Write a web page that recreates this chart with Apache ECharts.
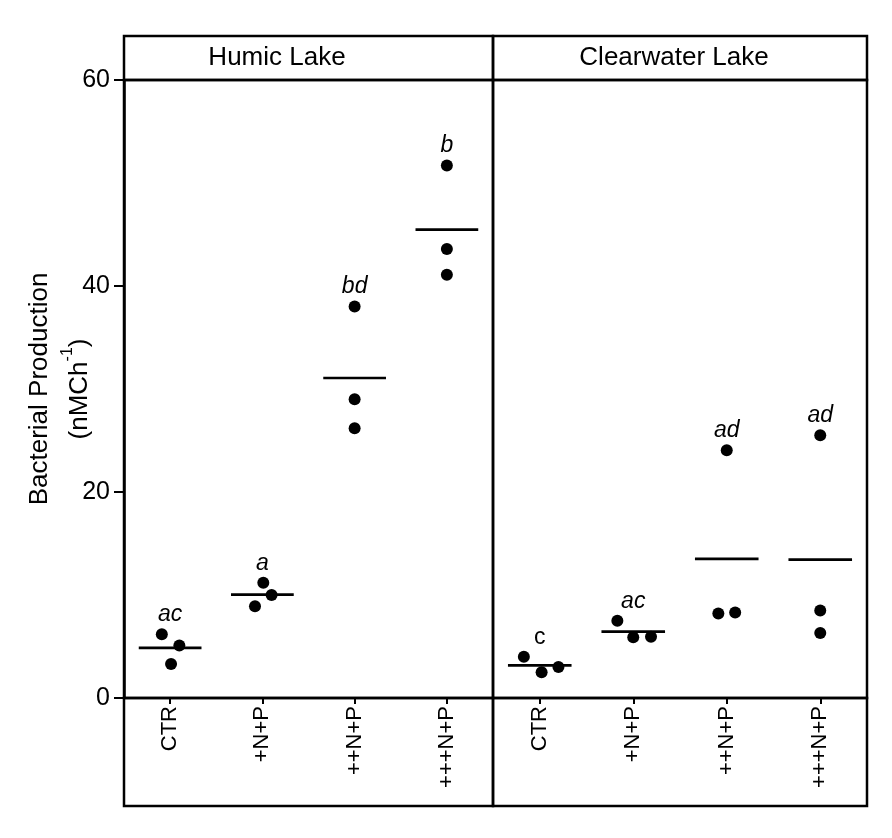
<!DOCTYPE html>
<html>
<head>
<meta charset="utf-8">
<script src="https://cdn.jsdelivr.net/npm/echarts@6/dist/echarts.min.js"></script>
<style>
html, body { margin: 0; padding: 0; background: #fff; }
#chart { width: 892px; height: 838px; }
</style>
</head>
<body>
<div id="chart"></div>
<script>
// 数据
const categories = ['CTR', '+N+P', '++N+P', '+++N+P'];
const panelTitles = ['Humic Lake', 'Clearwater Lake'];

const humicValues = [[6.2, 5.1, 3.3], [11.2, 10.0, 8.9], [38.0, 29.0, 26.2], [51.7, 43.6, 41.1]];
const humicJitter = [[-0.09, 0.10, 0.01], [0.01, 0.10, -0.08], [0, 0, 0], [0, 0, 0]];
const humicLetters = ['ac', 'a', 'bd', 'b'];
const humicItalic = [true, true, true, true];

const clearValues = [[4.0, 2.5, 3.0], [7.5, 5.9, 5.95], [24.05, 8.2, 8.3], [25.5, 8.5, 6.3]];
const clearJitter = [[-0.17, 0.02, 0.20], [-0.17, 0, 0.19], [0, -0.09, 0.09], [0, 0, 0]];
const clearLetters = ['c', 'ac', 'ad', 'ad'];
const clearItalic = [false, true, true, true];

const yTicks = [0, 20, 40, 60];

const FONT = 'Liberation Sans, Arial, sans-serif';

function pointsOf(values, jitter) {
    const out = [];
    values.forEach(function(g, i) {
        g.forEach(function(v, k) { out.push([i + jitter[i][k], v]); });
    });
    return out;
}
function meansOf(values) {
    return values.map(function(g, i) {
        return [i, g.reduce(function(a, b) { return a + b; }, 0) / g.length];
    });
}
function topsOf(values) {
    return values.map(function(g, i) { return [i, Math.max.apply(null, g)]; });
}

function renderMean(params, api) {
    const a = api.coord([api.value(0) - 0.34, api.value(1)]);
    const b = api.coord([api.value(0) + 0.34, api.value(1)]);
    return {
        type: 'line',
        shape: { x1: a[0], y1: a[1], x2: b[0], y2: b[1] },
        style: { stroke: '#000', lineWidth: 2.7 }
    };
}
function letterRenderer(letters, italic) {
    return function(params, api) {
        const p = api.coord([api.value(0), api.value(1)]);
        return {
            type: 'text',
            x: p[0],
            y: p[1] - 8,
            style: {
                text: letters[params.dataIndex],
                fill: '#000',
                fontSize: 23,
                fontStyle: italic[params.dataIndex] ? 'italic' : 'normal',
                fontFamily: FONT,
                align: 'center',
                verticalAlign: 'bottom'
            }
        };
    };
}

// 版面
const plotTop = 80, plotH = 618, stripTop = 36, bottomStrip = 108;
const panels = [{ left: 124, width: 369 }, { left: 493, width: 374 }];

const chart = echarts.init(document.getElementById('chart'));

function xAxisFor(idx) {
    return {
        type: 'value', gridIndex: idx, min: -0.5, max: 3.5,
        axisLine: { show: false, onZero: false },
        splitLine: { show: false },
        axisTick: { show: true, customValues: [0, 1, 2, 3], length: 6, lineStyle: { color: '#000', width: 2 } },
        axisLabel: {
            customValues: [0, 1, 2, 3],
            formatter: function(v) { return categories[Math.round(v)]; },
            rotate: 90, fontSize: 22, margin: 8, color: '#000', fontFamily: FONT
        }
    };
}

const graphics = [];
panels.forEach(function(p) {
    graphics.push({
        type: 'rect', shape: { x: p.left, y: stripTop, width: p.width, height: plotTop - stripTop },
        style: { fill: 'none', stroke: '#000', lineWidth: 2.5 }
    });
    graphics.push({
        type: 'rect', shape: { x: p.left, y: plotTop + plotH, width: p.width, height: bottomStrip },
        style: { fill: 'none', stroke: '#000', lineWidth: 2.5 }
    });
});
graphics.push({
    type: 'text', x: 277, y: 58,
    style: { text: panelTitles[0], fontSize: 26, fontFamily: FONT, fill: '#000', align: 'center', verticalAlign: 'middle' }
});
graphics.push({
    type: 'text', x: 674, y: 58,
    style: { text: panelTitles[1], fontSize: 26, fontFamily: FONT, fill: '#000', align: 'center', verticalAlign: 'middle' }
});

chart.setOption({
    backgroundColor: '#fff',
    animation: false,
    grid: panels.map(function(p) {
        return { left: p.left, top: plotTop, width: p.width, height: plotH, show: true, borderColor: '#000', borderWidth: 2.5 };
    }),
    xAxis: [xAxisFor(0), xAxisFor(1)],
    yAxis: [
        {
            type: 'value', gridIndex: 0, min: yTicks[0], max: yTicks[yTicks.length - 1], interval: 20,
            axisLine: { show: true, onZero: false, lineStyle: { color: '#000', width: 2.5 } },
            axisTick: { show: true, length: 10, lineStyle: { color: '#000', width: 2 } },
            axisLabel: { fontSize: 25, color: '#000', margin: 14, fontFamily: FONT },
            splitLine: { show: false },
            name: '{a|Bacterial Production}\n{a|(nMCh}{sup|-1}{a|)}',
            nameLocation: 'middle',
            nameGap: 24,
            nameMoveOverlap: false,
            nameTextStyle: {
                lineHeight: 40,
                rich: {
                    a: { fontSize: 26, fontFamily: FONT, color: '#000', lineHeight: 40 },
                    sup: { fontSize: 16, fontFamily: FONT, color: '#000', verticalAlign: 'top', lineHeight: 40 }
                }
            }
        },
        {
            type: 'value', gridIndex: 1, min: yTicks[0], max: yTicks[yTicks.length - 1], interval: 20,
            axisLine: { show: false, onZero: false },
            axisTick: { show: false },
            axisLabel: { show: false },
            splitLine: { show: false }
        }
    ],
    graphic: graphics,
    series: [
        {
            type: 'scatter', xAxisIndex: 0, yAxisIndex: 0, symbolSize: 12,
            itemStyle: { color: '#000', opacity: 1 }, data: pointsOf(humicValues, humicJitter)
        },
        {
            type: 'scatter', xAxisIndex: 1, yAxisIndex: 1, symbolSize: 12,
            itemStyle: { color: '#000', opacity: 1 }, data: pointsOf(clearValues, clearJitter)
        },
        { type: 'custom', xAxisIndex: 0, yAxisIndex: 0, renderItem: renderMean, data: meansOf(humicValues) },
        { type: 'custom', xAxisIndex: 1, yAxisIndex: 1, renderItem: renderMean, data: meansOf(clearValues) },
        { type: 'custom', xAxisIndex: 0, yAxisIndex: 0, renderItem: letterRenderer(humicLetters, humicItalic), data: topsOf(humicValues) },
        { type: 'custom', xAxisIndex: 1, yAxisIndex: 1, renderItem: letterRenderer(clearLetters, clearItalic), data: topsOf(clearValues) }
    ]
});

window.addEventListener('resize', function() {
    chart.resize();
});
</script>
</body>
</html>
